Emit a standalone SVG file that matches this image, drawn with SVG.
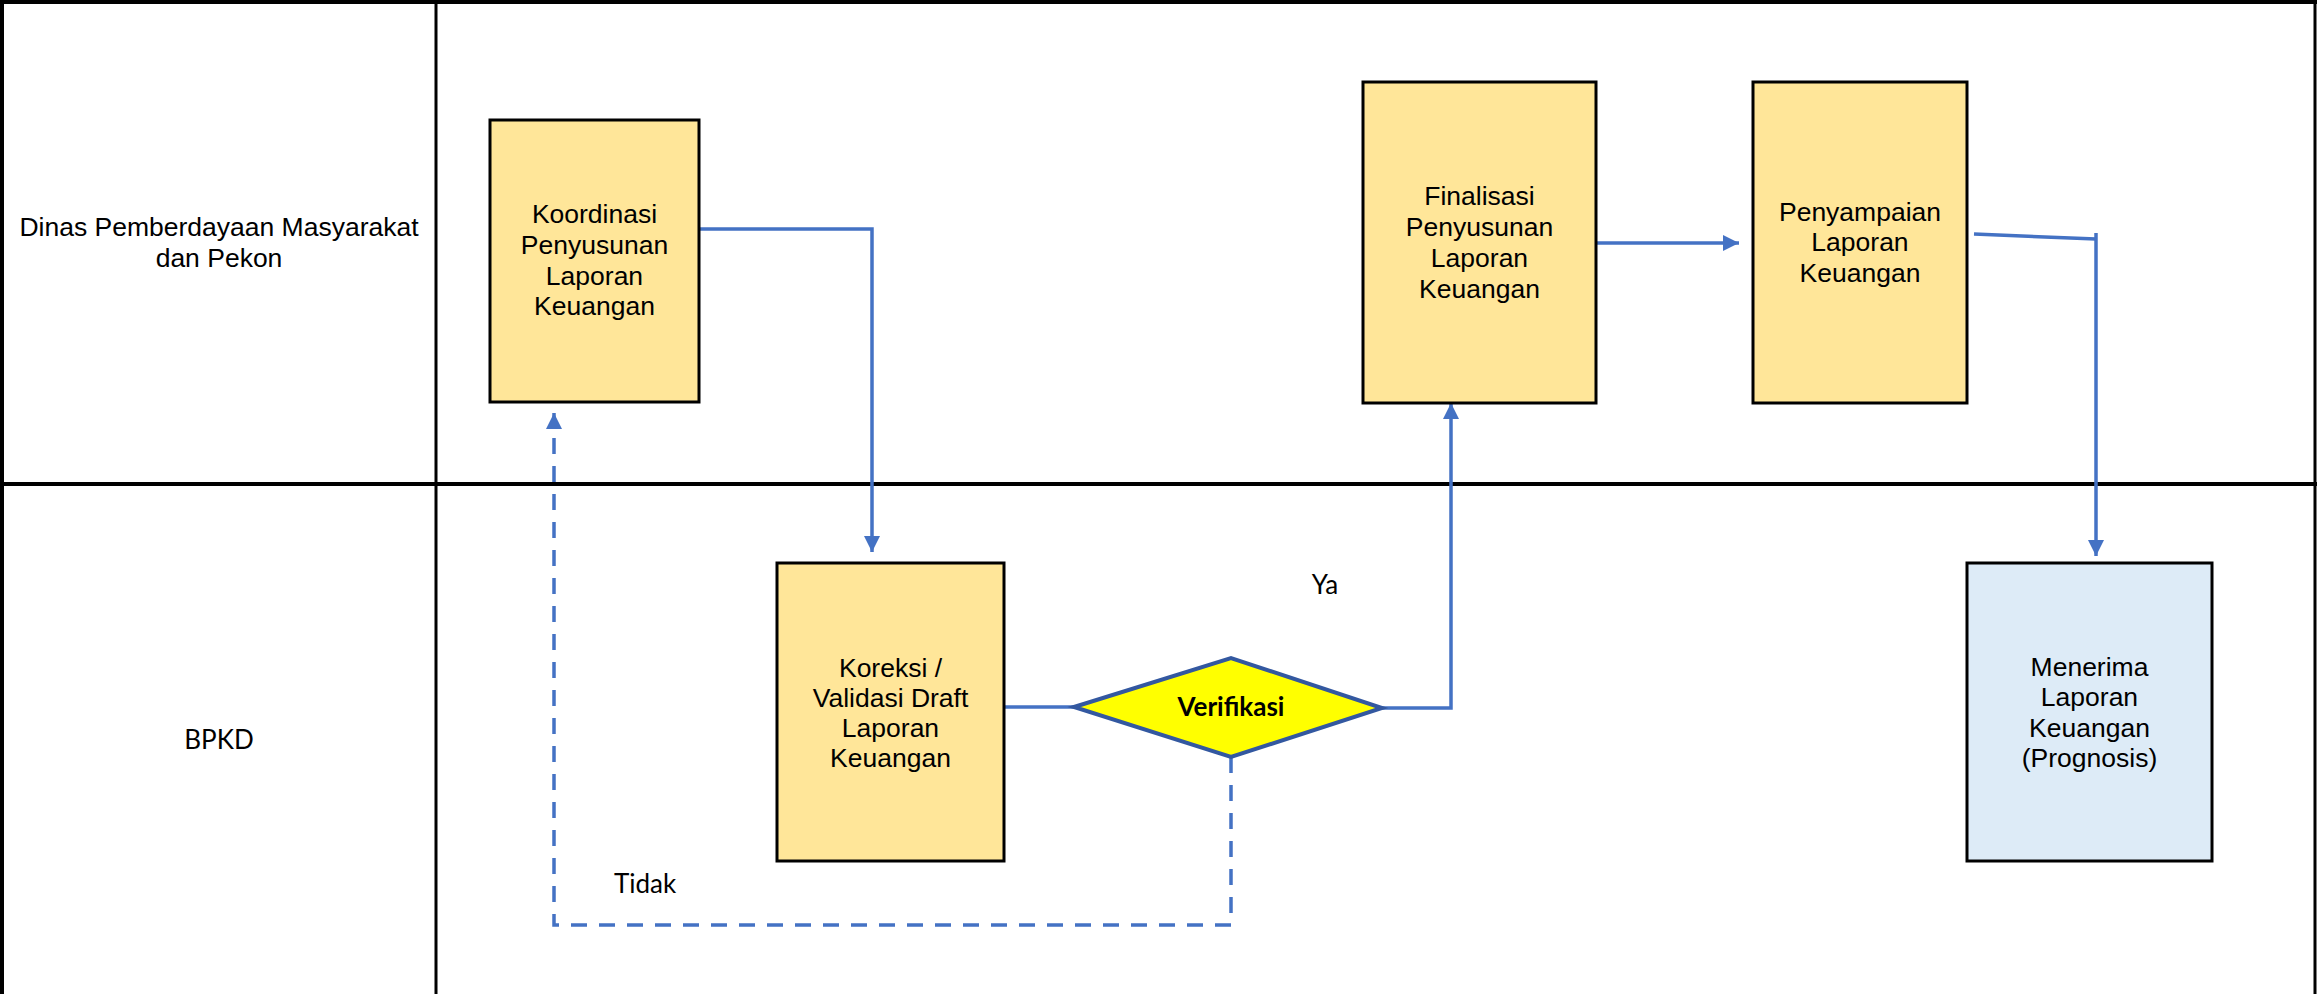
<svg xmlns="http://www.w3.org/2000/svg" width="2317" height="994" viewBox="0 0 2317 994">
<style>
.lane{stroke:#000;fill:none}
.box{fill:#FFE699;stroke:#000;stroke-width:3}
.box2{fill:#DDEBF7;stroke:#000;stroke-width:3}
.t{font-family:"Liberation Sans",Arial,sans-serif;font-size:26.5px;fill:#000;text-anchor:middle}
.c{font-family:Lato,"Open Sans",sans-serif;font-size:26px;fill:#000;text-anchor:middle}
.conn{fill:none;stroke:#4472C4;stroke-width:3.5}
.dash{stroke-dasharray:16 12}
.ah{fill:#4472C4;stroke:none}
</style>
<defs>
<marker id="arr" viewBox="0 0 10 10" refX="10" refY="5" markerWidth="16" markerHeight="16" markerUnits="userSpaceOnUse" orient="auto">
<path class="ah" d="M0,0 L10,5 L0,10 z"/>
</marker>
</defs>
<rect width="2317" height="994" fill="#fff"/>
<g id="lanes">
<line class="lane" x1="2" y1="0" x2="2" y2="994" stroke-width="4"/>
<line class="lane" x1="0" y1="2" x2="2317" y2="2" stroke-width="4"/>
<line class="lane" x1="2315" y1="0" x2="2315" y2="994" stroke-width="3"/>
<line class="lane" x1="436" y1="0" x2="436" y2="994" stroke-width="3"/>
<line class="lane" x1="0" y1="484" x2="2317" y2="484" stroke-width="4"/>
<text class="t" x="219" y="236">Dinas Pemberdayaan Masyarakat</text>
<text class="t" x="219" y="267">dan Pekon</text>
<text class="c" x="219" y="749">BPKD</text>
</g>
<g id="connectors">
<path class="conn" d="M699 229 H872 V552" marker-end="url(#arr)"/>
<path class="conn" d="M1004 707 H1074"/>
<path class="conn" d="M1382 708 H1451 V403" marker-end="url(#arr)"/>
<path class="conn" d="M1596 243 H1739" stroke-width="4.5" marker-end="url(#arr)"/>
<path class="conn" d="M1974 234 L2096 239"/>
<path class="conn" d="M2096 233 V556" stroke-width="3" marker-end="url(#arr)"/>
<path class="conn dash" d="M1231 757 V925 H554 V413" marker-end="url(#arr)"/>
<text class="c" x="1325" y="594">Ya</text>
<text class="c" x="645" y="893">Tidak</text>
</g>
<g id="koordinasi">
<rect class="box" x="490" y="120" width="209" height="282"/>
<text class="t" x="594.5" y="223">Koordinasi</text>
<text class="t" x="594.5" y="254">Penyusunan</text>
<text class="t" x="594.5" y="285">Laporan</text>
<text class="t" x="594.5" y="315">Keuangan</text>
</g>
<g id="koreksi">
<rect class="box" x="777" y="563" width="227" height="298"/>
<text class="t" x="890.5" y="677">Koreksi /</text>
<text class="t" x="890.5" y="707">Validasi Draft</text>
<text class="t" x="890.5" y="737">Laporan</text>
<text class="t" x="890.5" y="767">Keuangan</text>
</g>
<g id="verifikasi">
<polygon points="1074,707 1231,658 1382,708 1231,757" fill="#FFFF00" stroke="#3358A0" stroke-width="4"/>
<text class="c" x="1231" y="716" font-size="19.5" font-weight="bold">Verifikasi</text>
</g>
<g id="finalisasi">
<rect class="box" x="1363" y="82" width="233" height="321"/>
<text class="t" x="1479.5" y="205">Finalisasi</text>
<text class="t" x="1479.5" y="236">Penyusunan</text>
<text class="t" x="1479.5" y="267">Laporan</text>
<text class="t" x="1479.5" y="298">Keuangan</text>
</g>
<g id="penyampaian">
<rect class="box" x="1753" y="82" width="214" height="321"/>
<text class="t" x="1860" y="221">Penyampaian</text>
<text class="t" x="1860" y="251">Laporan</text>
<text class="t" x="1860" y="282">Keuangan</text>
</g>
<g id="menerima">
<rect class="box2" x="1967" y="563" width="245" height="298"/>
<text class="t" x="2089.5" y="676">Menerima</text>
<text class="t" x="2089.5" y="706">Laporan</text>
<text class="t" x="2089.5" y="737">Keuangan</text>
<text class="t" x="2089.5" y="767">(Prognosis)</text>
</g>
</svg>
